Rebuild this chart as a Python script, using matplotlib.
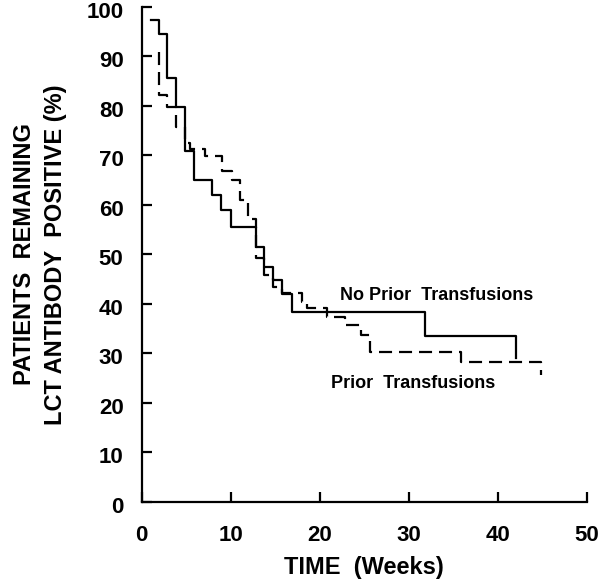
import matplotlib
matplotlib.use("Agg")
import matplotlib.pyplot as plt
from matplotlib.transforms import ScaledTranslation

# No prior transfusions (solid) - step times (weeks) and % remaining
no_prior_t = [1.1, 2.0, 2.9, 3.9, 4.9, 5.85, 7.9, 8.95, 10.0, 12.9, 13.8, 14.8, 15.8, 16.9, 31.8, 42.0]
no_prior_v = [97.4, 94.5, 85.6, 79.7, 71.0, 65.0, 62.0, 59.0, 55.6, 51.6, 47.5, 44.8, 42.1, 38.4, 33.6, 29.0]

# prior transfusions (dashed)
prior_t = [1.9, 1.9, 2.8, 3.85, 4.9, 5.45, 7.1, 9.0, 10.1, 11.05, 12.0, 12.9, 13.8, 14.8, 15.8,
           18.0, 18.6, 20.8, 22.8, 24.6, 25.7, 35.9, 44.9]
prior_v = [91.0, 82.3, 79.7, 75.8, 72.6, 71.4, 69.9, 66.8, 65.0, 61.0, 57.2, 49.2, 45.9, 43.5, 42.3,
           40.3, 39.1, 37.4, 35.7, 33.7, 30.4, 28.3, 25.7]

xticks = [0, 10, 20, 30, 40, 50]
yticks = [0, 10, 20, 30, 40, 50, 60, 70, 80, 90, 100]

plt.rcParams['font.family'] = ['Liberation Sans', 'DejaVu Sans']
plt.rcParams['lines.scale_dashes'] = False

fig = plt.figure(figsize=(6, 5.81), dpi=100)
ax = fig.add_axes([0.236, 0.136, 0.742, 0.852])

ax.plot(no_prior_t, no_prior_v, drawstyle='steps-post', color='black', lw=1.6)
ax.plot(prior_t, prior_v, drawstyle='steps-post', color='black', lw=1.6, dashes=(9.4, 5))

ax.set_xlim(0, 50)
ax.set_ylim(0, 100)
ax.set_xticks(xticks)
ax.set_yticks(yticks)

for s in ['top', 'right']:
    ax.spines[s].set_visible(False)
for s in ['left', 'bottom']:
    ax.spines[s].set_linewidth(1.6)

ax.tick_params(direction='in', length=7.5, width=1.6, labelsize=16)
ax.tick_params(axis='x', pad=16.5)
ax.tick_params(axis='y', pad=13)
for lab in ax.get_xticklabels() + ax.get_yticklabels():
    lab.set_fontweight('bold')
# y labels sit a little below their ticks in the original
shift = ScaledTranslation(0, -3 / 100, fig.dpi_scale_trans)
for lab in ax.get_yticklabels():
    lab.set_transform(lab.get_transform() + shift)

ax.set_xlabel('TIME  (Weeks)', fontsize=17, fontweight='bold', labelpad=7)
ax.set_ylabel('PATIENTS  REMAINING\nLCT ANTIBODY  POSITIVE (%)', fontsize=17,
              fontweight='bold', labelpad=14, linespacing=1.45)

ax.text(22.3, 41.8, 'No Prior  Transfusions', fontsize=13, fontweight='bold', va='center')
ax.text(21.3, 24.0, 'Prior  Transfusions', fontsize=13, fontweight='bold', va='center')

fig.savefig('out.png', dpi=100)
